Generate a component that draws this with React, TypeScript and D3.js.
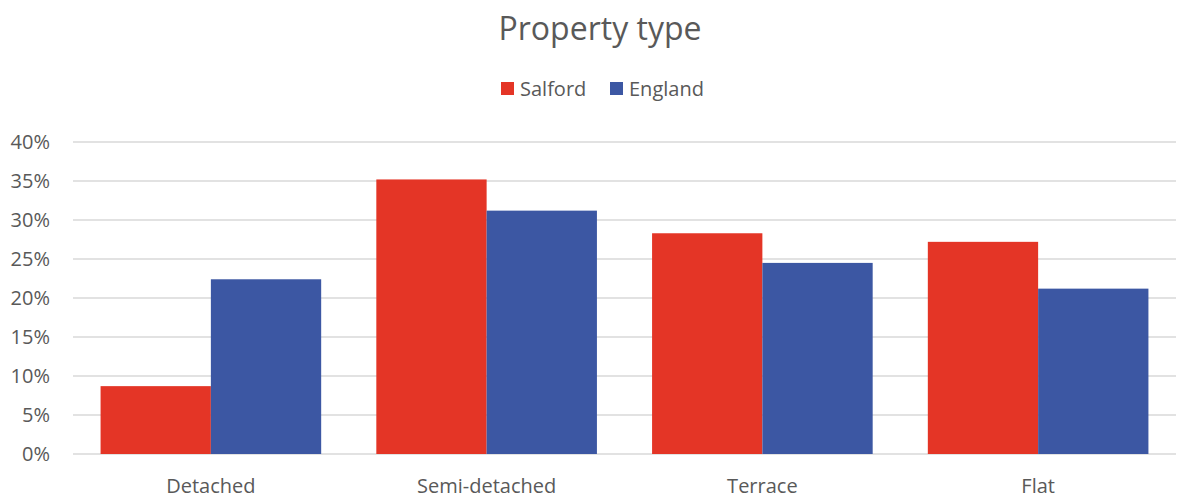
import React, { useEffect, useRef } from 'react'
import * as d3 from 'd3'

const categories = ['Detached', 'Semi-detached', 'Terrace', 'Flat']
const seriesNames = ['Salford', 'England']
const salford = [0.087, 0.352, 0.283, 0.272]
const england = [0.224, 0.312, 0.245, 0.212]
const yTicks = [0, 0.05, 0.1, 0.15, 0.2, 0.25, 0.3, 0.35, 0.4]
const colors = ['#E43526', '#3C57A3']

const W = 1178
const H = 499
const FONT = '"Open Sans", "Liberation Sans", sans-serif'

export default function App() {
  const svgRef = useRef<SVGSVGElement>(null)

  useEffect(() => {
    document.body.style.margin = '0'
    if (!svgRef.current) return
    const svg = d3.select(svgRef.current)
    svg.selectAll('*').remove()

    const margin = { top: 142, right: 2, bottom: 45, left: 73 }
    const innerW = W - margin.left - margin.right
    const innerH = H - margin.top - margin.bottom

    // Excel-like gap width 50%: bar = cat / 2.5
    const x0 = d3.scaleBand().domain(categories).range([0, innerW])
    const catW = x0.bandwidth()
    const barW = catW / 2.5
    const gap = catW - 2 * barW
    const y = d3.scaleLinear().domain([0, 0.4]).range([innerH, 0])

    svg.append('rect').attr('width', W).attr('height', H).attr('fill', '#fff')

    svg.append('text')
      .attr('x', 600)
      .attr('y', 40)
      .attr('text-anchor', 'middle')
      .attr('fill', '#595959')
      .style('font-family', FONT)
      .style('font-size', '32px')
      .text('Property type')

    const g = svg.append('g').attr('transform', `translate(${margin.left},${margin.top})`)

    // gridlines
    g.selectAll('.grid')
      .data(yTicks)
      .enter().append('line')
      .attr('x1', 0)
      .attr('x2', innerW)
      .attr('y1', d => y(d))
      .attr('y2', d => y(d))
      .attr('stroke', '#D9D9D9')
      .attr('stroke-width', 1.3)

    // y labels
    g.selectAll('.ylab')
      .data(yTicks)
      .enter().append('text')
      .attr('x', -23)
      .attr('y', d => y(d))
      .attr('dy', '0.35em')
      .attr('text-anchor', 'end')
      .attr('fill', '#595959')
      .style('font-family', FONT)
      .style('font-size', '20px')
      .text(d => d3.format('.0%')(d))

    const data = [salford, england]
    data.forEach((vals, si) => {
      g.selectAll(`.bar${si}`)
        .data(categories)
        .enter().append('rect')
        .attr('x', c => (x0(c) as number) + gap / 2 + si * barW)
        .attr('y', (c, i) => y(vals[i]))
        .attr('width', barW)
        .attr('height', (c, i) => innerH - y(vals[i]))
        .attr('fill', colors[si])
    })

    // x labels
    g.selectAll('.xlab')
      .data(categories)
      .enter().append('text')
      .attr('x', c => (x0(c) as number) + catW / 2)
      .attr('y', innerH + 32)
      .attr('dy', '0.35em')
      .attr('text-anchor', 'middle')
      .attr('fill', '#595959')
      .style('font-family', FONT)
      .style('font-size', '20px')
      .text(d => d)

    // legend
    const legendX = [501, 610]
    seriesNames.forEach((name, i) => {
      const lg = svg.append('g').attr('transform', `translate(${legendX[i]},82)`)
      lg.append('rect').attr('width', 13).attr('height', 13).attr('fill', colors[i])
      lg.append('text')
        .attr('x', 19)
        .attr('y', 6.5)
        .attr('dy', '0.35em')
        .attr('fill', '#595959')
        .style('font-family', FONT)
        .style('font-size', '20px')
        .text(name)
    })
  }, [])

  return <svg ref={svgRef} width={W} height={H} style={{ display: 'block' }} />
}
